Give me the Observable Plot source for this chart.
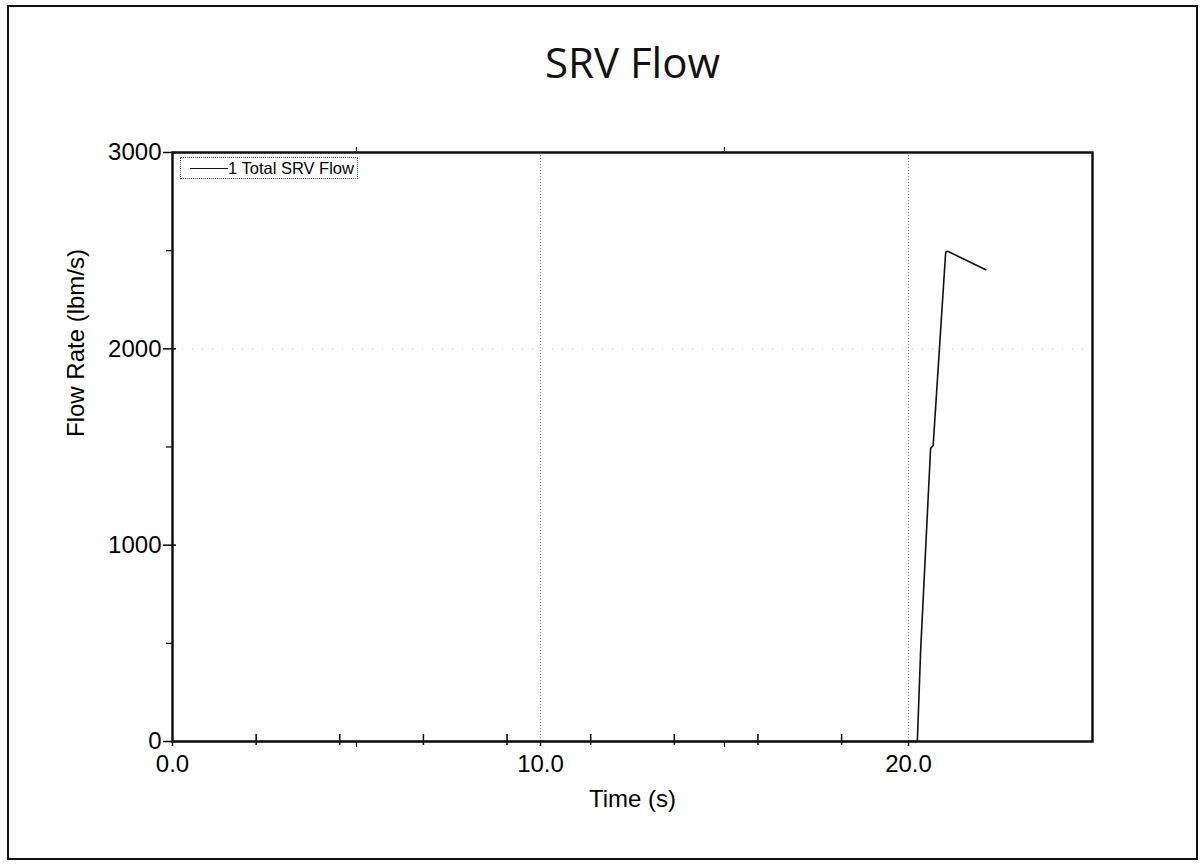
<!DOCTYPE html>
<html>
<head>
<meta charset="utf-8">
<script src="https://cdn.jsdelivr.net/npm/d3@7"></script>
<script src="https://cdn.jsdelivr.net/npm/@observablehq/plot@0.6"></script>
<style>
  html, body { margin: 0; padding: 0; background: #fff; }
  #page { position: relative; width: 1203px; height: 865px; overflow: hidden; background: #fff; }
  #border { position: absolute; left: 7px; top: 5px; width: 1191px; height: 855px; border: 2px solid #111; box-sizing: border-box; pointer-events: none; }
  #title { height: 100px; box-sizing: border-box; padding-top: 39px; margin: 0; text-align: center; font-family: "Open Sans", sans-serif; font-weight: 400; font-size: 42px; line-height: 46px; color: #111; padding-left: 62px; }
  #chart { position: absolute; left: 0; top: 100px; }
  #legend { position: absolute; left: 180px; top: 157px; width: 178px; height: 22px; border: 1px dotted #555; box-sizing: border-box; font-family: "Liberation Sans", Arial, sans-serif; font-size: 16.5px; line-height: 20px; color: #000; white-space: nowrap; background: #fff; }
  #legend .swatch { display: inline-block; width: 38px; height: 0; border-top: 1.5px solid #111; vertical-align: middle; margin: 0 0 3px 9px; }
</style>
</head>
<body>
<div id="page">
  <div id="title">SRV Flow</div>
  <div id="chart"></div>
  <div id="legend"><span class="swatch"></span>1 Total SRV Flow</div>
  <div id="border"></div>
</div>
<script>
// Total SRV flow history
const timeS = [0, 20.24, 20.33, 20.60, 20.67, 21.01, 21.06, 21.12, 22.10];
const flowLbmS = [0, 0, 464, 1492, 1508, 2492, 2497, 2492, 2403];

// Axis ticks
const xLabelTicks = [0, 10, 20];
const xHalfTicks = [5, 15];
const xInnerTicks = [25 / 11, 50 / 11, 75 / 11, 100 / 11, 125 / 11, 150 / 11, 175 / 11, 200 / 11];
const yMajorTicks = [0, 1000, 2000, 3000];
const yMinorTicks = [500, 1500, 2500];
const xGrid = [10, 20];
const yGrid = [2000];

const series = timeS.map((t, i) => ({t, flow: flowLbmS[i]}));

const fontFamily = "'Liberation Sans', Arial, Helvetica, sans-serif";

const chart = Plot.plot({
  width: 1203,
  height: 765,
  marginLeft: 172,
  marginRight: 111,
  marginTop: 52,
  marginBottom: 124,
  style: {fontFamily, fontSize: "24px", color: "#000", background: "transparent"},
  x: {domain: [0, 25]},
  y: {domain: [0, 3000]},
  marks: [
    // dotted grid
    Plot.ruleX(xGrid, {stroke: "#888", strokeWidth: 1, strokeDasharray: "1,2"}),
    Plot.ruleY(yGrid, {stroke: "#bbb", strokeWidth: 1, strokeDasharray: "1,9"}),
    // y axis: major ticks with labels, minor ticks
    Plot.axisY(yMajorTicks, {tickSize: 9, tickPadding: 2, tickFormat: d => String(d), label: null, strokeWidth: 1.5, fill: "#000"}),
    Plot.axisY(yMajorTicks, {tickSize: 4, dx: 4, text: null, label: null, strokeWidth: 1.5}),
    Plot.axisY(yMinorTicks, {tickSize: 6, text: null, label: null, strokeWidth: 1.2}),
    // x axis: labelled ticks, half ticks, inner ticks
    Plot.axisX(xLabelTicks, {tickSize: 5, tickPadding: 8, tickFormat: d3.format(".1f"), label: null, strokeWidth: 1.5, fill: "#000"}),
    Plot.axisX(xHalfTicks, {tickSize: 6, text: null, label: null, strokeWidth: 1.2}),
    Plot.axisX(xHalfTicks, {anchor: "top", tickSize: 6, text: null, label: null, strokeWidth: 1.2}),
    Plot.axisX(xInnerTicks, {tickSize: 7, dy: -7, text: null, label: null, strokeWidth: 1.5}),
    Plot.axisX(xInnerTicks, {tickSize: 4, text: null, label: null, strokeWidth: 1.5}),
    // axis titles
    Plot.text(["Time (s)"], {frameAnchor: "bottom", dy: 65, fontSize: 24, fill: "#000"}),
    Plot.text(["Flow Rate (lbm/s)"], {frameAnchor: "left", dx: -96, dy: -10, rotate: -90, fontSize: 24, fill: "#000"}),
    // data
    Plot.line(series, {x: "t", y: "flow", stroke: "#111", strokeWidth: 1.6}),
    Plot.frame({stroke: "#111", strokeWidth: 2.5})
  ]
});
document.getElementById("chart").appendChild(chart);
</script>
</body>
</html>
